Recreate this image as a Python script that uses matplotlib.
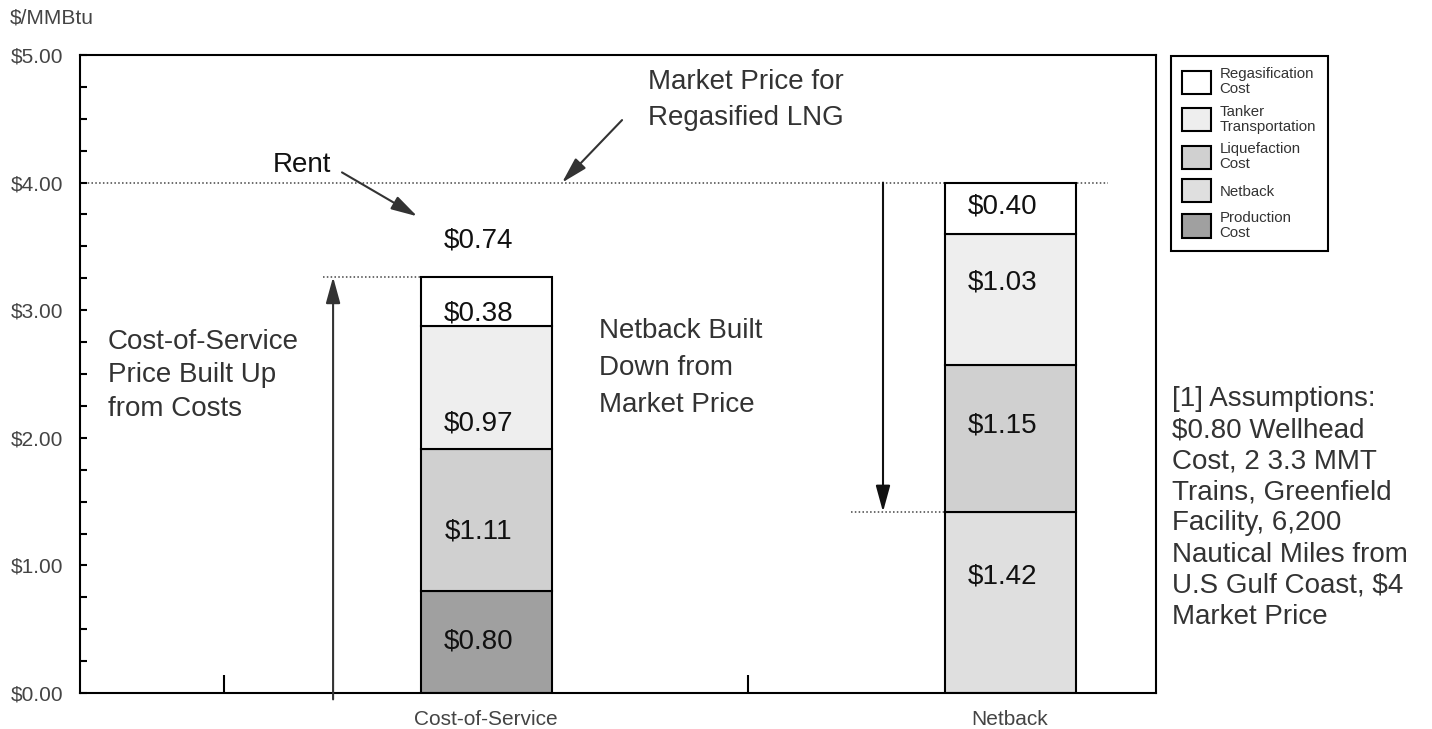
import numpy as np
import matplotlib
matplotlib.use("Agg")
import matplotlib.pyplot as plt
from matplotlib.patches import Patch
from matplotlib.ticker import MultipleLocator, FuncFormatter

plt.rcParams['font.family'] = ['Liberation Sans', 'DejaVu Sans']

# 価格構成 ($/MMBtu)
categories = ["Cost-of-Service", "Netback"]
cos_values = [0.80, 1.11, 0.97, 0.38]      # production, liquefaction, tanker, regas
cos_labels = ["$0.80", "$1.11", "$0.97", "$0.38"]
net_values = [1.42, 1.15, 1.03, 0.40]      # netback, liquefaction, tanker, regas
net_labels = ["$1.42", "$1.15", "$1.03", "$0.40"]
rent = 0.74
market_price = 4.00

legend_names = ["Regasification\nCost", "Tanker\nTransportation", "Liquefaction\nCost",
                "Netback", "Production\nCost"]

c_regas = "#ffffff"
c_tanker = "#eeeeee"
c_liq = "#d0d0d0"
c_net = "#dfdfdf"
c_prod = "#a0a0a0"
cos_colors = [c_prod, c_liq, c_tanker, c_regas]
net_colors = [c_net, c_liq, c_tanker, c_regas]

xpos = [1, 3]
barw = 0.5
lw = 1.5
txt = "#333333"

fig = plt.figure(figsize=(14.32, 7.29), dpi=100)
ax = fig.add_axes([80/1432, 36/729, 1076/1432, 638/729])

# 積み上げ棒
bottom = 0
for v, c in zip(cos_values, cos_colors):
    ax.bar(xpos[0], v, barw, bottom=bottom, color=c, edgecolor="black", linewidth=lw, zorder=2)
    bottom += v
cos_total = bottom
bottom = 0
for v, c in zip(net_values, net_colors):
    ax.bar(xpos[1], v, barw, bottom=bottom, color=c, edgecolor="black", linewidth=lw, zorder=2)
    bottom += v
net_total = bottom

# 値ラベル (位置は手で調整)
cos_label_y = [0.40, 1.265, 2.115, 2.975]
net_label_y = [0.915, 2.095, 3.215, 3.815]
for s, yy in zip(cos_labels, cos_label_y):
    ax.text(xpos[0]-0.03, yy, s, ha="center", va="center", fontsize=20, color="#111111", zorder=3)
for s, yy in zip(net_labels, net_label_y):
    ax.text(xpos[1]-0.03, yy, s, ha="center", va="center", fontsize=20, color="#111111", zorder=3)
ax.text(xpos[0]-0.03, 3.55, "$%.2f" % rent, ha="center", va="center", fontsize=20, color="#111111")

# 点線
dot = (0, (1, 1.5))
ax.plot([-0.55, 3.374], [market_price, market_price], ls=dot, lw=1.1, color="#444444", zorder=1)
ax.plot([0.378, 1.168], [cos_total, cos_total], ls=dot, lw=1.1, color="#444444", zorder=1)
ax.plot([2.393, xpos[1]-barw/2], [net_values[0], net_values[0]], ls=dot, lw=1.1, color="#444444", zorder=1)

# 矢印
aprops = dict(arrowstyle="-|>,head_length=0.8,head_width=0.22", mutation_scale=20,
              lw=1.5, color="#333333", shrinkA=0, shrinkB=0)
ax.annotate("", xy=(0.416, cos_total), xytext=(0.416, -0.05), arrowprops=aprops, annotation_clip=False)
dprops = dict(aprops, color="#111111")
ax.annotate("", xy=(2.515, net_values[0]), xytext=(2.515, market_price), arrowprops=dprops)
ax.annotate("", xy=(0.737, 3.736), xytext=(0.450, 4.08), arrowprops=aprops)
ax.annotate("", xy=(1.290, market_price), xytext=(1.519, 4.49), arrowprops=aprops)

# 注記
ax.text(0.187, 4.14, "Rent", ha="left", va="center", fontsize=20, color="#111111")
ax.text(1.618, 4.65, "Market Price for\nRegasified LNG", ha="left", va="center",
        fontsize=20, color=txt, linespacing=1.5)
ax.text(-0.443, 2.49, "Cost-of-Service\nPrice Built Up\nfrom Costs", ha="left", va="center",
        fontsize=20, color=txt, linespacing=1.38)
ax.text(1.431, 2.55, "Netback Built\nDown from\nMarket Price", ha="left", va="center",
        fontsize=20, color=txt, linespacing=1.55)
fig.text(1172/1432, 1-508/729, "[1] Assumptions:\n$0.80 Wellhead\nCost, 2 3.3 MMT\nTrains, Greenfield\n"
         "Facility, 6,200\nNautical Miles from\nU.S Gulf Coast, $4\nMarket Price",
         ha="left", va="center", fontsize=20, color=txt, linespacing=1.25)
fig.text(10/1432, 1-18/729, "$/MMBtu", ha="left", va="center", fontsize=15, color="#444444")

# 軸
ax.set_xlim(-0.55, 3.557)
ax.set_ylim(0, 5)
ax.set_xticks([0, 1, 2, 3])
ax.set_xticklabels(["", categories[0], "", categories[1]])
ax.yaxis.set_major_locator(MultipleLocator(1))
ax.yaxis.set_minor_locator(MultipleLocator(0.25))
ax.yaxis.set_major_formatter(FuncFormatter(lambda v, p: "$%.2f" % v))
ax.tick_params(axis="x", direction="in", length=13, width=1.5, pad=12, labelsize=15, labelcolor="#444444")
ax.tick_params(axis="y", which="both", direction="in", length=5, width=1.5, pad=12, labelsize=15,
               labelcolor="#444444")
for sp in ax.spines.values():
    sp.set_linewidth(1.5)

# 凡例
handles = [Patch(facecolor=c, edgecolor="black", linewidth=lw)
           for c in [c_regas, c_tanker, c_liq, c_net, c_prod]]
leg = ax.legend(handles, legend_names, loc="upper left", bbox_to_anchor=(1171/1432, 1-56/729),
                bbox_transform=fig.transFigure, borderaxespad=0, fontsize=10.8,
                handlelength=1.9, handleheight=2.0, handletextpad=0.6, borderpad=0.75,
                labelspacing=0.55, fancybox=False, framealpha=1, edgecolor="black")
leg.get_frame().set_linewidth(1.5)
for t in leg.get_texts():
    t.set_color(txt)
    t.set_linespacing(1.1)

plt.savefig("out.png", dpi=100)
